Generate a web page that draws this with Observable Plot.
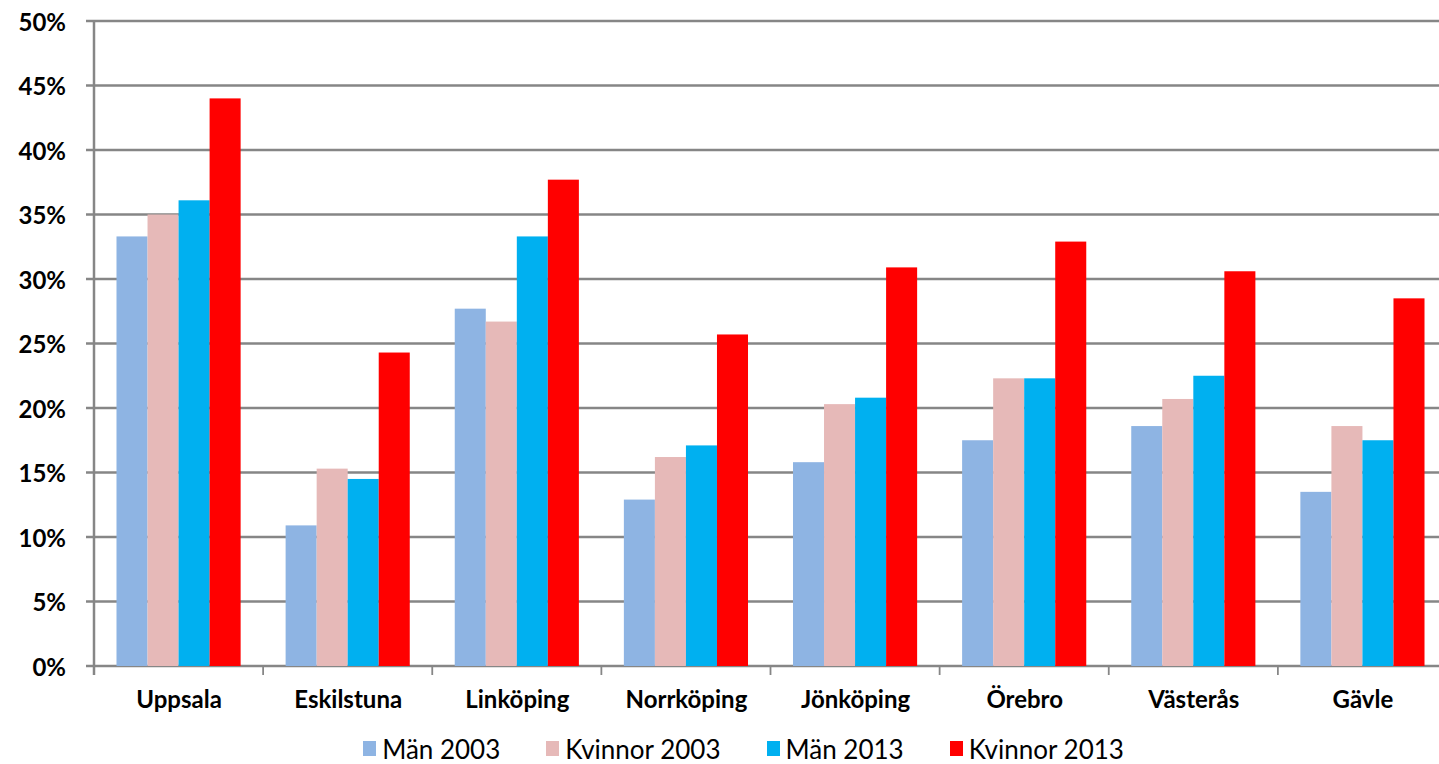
<!DOCTYPE html>
<html><head><meta charset="utf-8">
<script src="https://cdn.jsdelivr.net/npm/d3@7"></script>
<script src="https://cdn.jsdelivr.net/npm/@observablehq/plot@0.6"></script>
<style>
html,body{margin:0;background:#fff;font-family:Lato,"Open Sans",sans-serif;overflow:hidden;width:1439px;}
#chart{width:1439px;height:725px;overflow:hidden;}
#chart svg{display:block;max-width:none !important;width:1447px !important;height:725px !important;}
#legend{display:flex;justify-content:center;align-items:center;height:39px;gap:46px;padding-top:8px;padding-left:48px;font-size:26px;color:#000;width:1439px;box-sizing:border-box;}
#legend .item{display:flex;align-items:center;}
#legend .sw{width:13px;height:15px;margin-right:6px;}
</style></head><body><div id="chart"></div><div id="legend"></div>
<script>
const cities = ["Uppsala","Eskilstuna","Linköping","Norrköping","Jönköping","Örebro","Västerås","Gävle"];
const series = ["Män 2003","Kvinnor 2003","Män 2013","Kvinnor 2013"];
const colors = ["#8EB4E3","#E6B9B8","#00B0F0","#FF0000"];
const man2003     = [33.3, 10.9, 27.7, 12.9, 15.8, 17.5, 18.6, 13.5];
const kvinnor2003 = [35.0, 15.3, 26.7, 16.2, 20.3, 22.3, 20.7, 18.6];
const man2013     = [36.1, 14.5, 33.3, 17.1, 20.8, 22.3, 22.5, 17.5];
const kvinnor2013 = [44.0, 24.3, 37.7, 25.7, 30.9, 32.9, 30.6, 28.5];
const yTicks = [0, 0.05, 0.10, 0.15, 0.20, 0.25, 0.30, 0.35, 0.40, 0.45, 0.50];

const values = [man2003, kvinnor2003, man2013, kvinnor2013];
const data = cities.flatMap((c, i) => series.map((s, j) => ({city: c, series: s, value: values[j][i] / 100})));

const W = 1447, H = 725, ML = 94, MR = 0, MT = 21, MB = 59;
const PI = 0.266, PO = 0.133;
const chart = Plot.plot({
  width: W, height: H, marginLeft: ML, marginRight: MR, marginTop: MT, marginBottom: MB,
  style: {fontFamily: "Lato, sans-serif", fontSize: "24px", fontWeight: "bold", color: "#000", background: "#fff", overflow: "visible", maxWidth: "none"},
  fx: {domain: cities, paddingInner: PI, paddingOuter: PO, round: false, label: null, tickSize: 0, tickPadding: 24},
  x: {domain: series, padding: 0, round: false, axis: null},
  y: {domain: [0, 0.5], axis: null},
  color: {domain: series, range: colors},
  marks: [
    Plot.barY(data, {fx: "city", x: "series", y: "value", fill: "series"})
  ]
});
document.getElementById("chart").appendChild(chart);

const svg = d3.select(chart);
const y = chart.scale("y"), fx = chart.scale("fx");
const g = svg.insert("g", ":first-child").attr("class", "grid");
const gray = "#868686";
yTicks.forEach(t => {
  g.append("line").attr("x1", ML - 8).attr("x2", W - MR).attr("y1", y.apply(t)).attr("y2", y.apply(t))
    .attr("stroke", gray).attr("stroke-width", 2.5);
  svg.append("text").attr("x", ML - 28).attr("y", y.apply(t)).attr("text-anchor", "end")
    .attr("dominant-baseline", "central").attr("font-size", 24).attr("font-weight", "bold")
    .text(d3.format(".0%")(t));
});
g.append("line").attr("x1", ML).attr("x2", ML).attr("y1", y.apply(0.5)).attr("y2", y.apply(0) + 9)
  .attr("stroke", gray).attr("stroke-width", 2.5);
const bw = fx.bandwidth;
const step = fx.step || bw / (1 - PI);
const bounds = cities.map(c => fx.apply(c) - (step - bw) / 2);
bounds.slice(1).forEach(b => {
  g.append("line").attr("x1", b).attr("x2", b).attr("y1", y.apply(0)).attr("y2", y.apply(0) + 9)
    .attr("stroke", gray).attr("stroke-width", 1.8);
});

const legend = d3.select("#legend");
series.forEach((s, i) => {
  const it = legend.append("div").attr("class", "item");
  it.append("div").attr("class", "sw").style("background", colors[i]);
  it.append("span").text(s);
});
</script></body></html>
